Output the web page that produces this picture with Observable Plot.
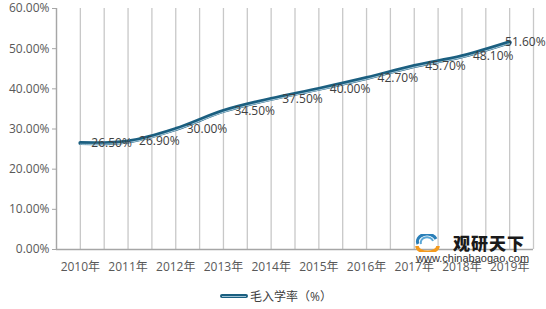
<!DOCTYPE html>
<html>
<head>
<meta charset="utf-8">
<script src="https://cdn.jsdelivr.net/npm/d3@7"></script>
<script src="https://cdn.jsdelivr.net/npm/@observablehq/plot@0.6"></script>
<style>
  html, body { margin: 0; padding: 0; background: #fff; }
  #wrap { position: relative; width: 546px; height: 309px; overflow: hidden; font-family: 'Open Sans', 'Noto Sans CJK SC', sans-serif; }
  #legend { position: absolute; left: 0; top: 287px; width: 546px; height: 18px; display: flex; justify-content: center; align-items: center; font-size: 12px; color: #404040; }
  #legend .sw { position: relative; width: 28px; height: 4px; background: #1b5f80; border-radius: 2px; margin-right: 2px; margin-left: 6px; }
  #legend .sw::after { content: ""; position: absolute; left: 2px; right: 2px; top: 2px; height: 1px; background: #9ec3d6; }
  #wm { position: absolute; left: 414px; top: 232px; width: 120px; height: 32px; }
  #wm .t1 { position: absolute; left: 39px; top: 1px; font-family: 'Noto Sans CJK SC', sans-serif; font-weight: 900; font-size: 17px; letter-spacing: 1px; color: #1a1a1a; line-height: 20px; }
  #wm .t2 { position: absolute; left: 2px; top: 20px; font-family: 'Liberation Sans', Arial, sans-serif; font-size: 11px; color: #333; line-height: 12px; }
  #wm svg { position: absolute; left: 0; top: 2px; }
</style>
</head>
<body>
<div id="wrap">
  <div id="chart"></div>
  <div id="wm">
    <svg width="30" height="18" viewBox="0 0 30 18">
      <path d="M4 10 A9 7 0 0 1 22 5" fill="none" stroke="#2a7fb8" stroke-width="3"/>
      <path d="M7 10 A6 5 0 0 1 19 7" fill="none" stroke="#5aa7d6" stroke-width="2"/>
      <path d="M3 12 A10 6 0 0 0 24 12" fill="none" stroke="#f39a1e" stroke-width="3.5"/>
    </svg>
    <div class="t1">观研天下</div>
    <div class="t2">www.chinabaogao.com</div>
  </div>
  <div id="legend"><span class="sw"></span><span>毛入学率（%）</span></div>
</div>
<script>
const years = [2010, 2011, 2012, 2013, 2014, 2015, 2016, 2017, 2018, 2019];
const rates = [26.5, 26.9, 30.0, 34.5, 37.5, 40.0, 42.7, 45.7, 48.1, 51.6];
const rateLabels = ["26.50%", "26.90%", "30.00%", "34.50%", "37.50%", "40.00%", "42.70%", "45.70%", "48.10%", "51.60%"];
const yTicks = [0, 10, 20, 30, 40, 50, 60];

const data = years.map((y, i) => ({ year: y, rate: rates[i], label: rateLabels[i] }));
const gridPositions = d3.range(years[0] - 0.5, years[years.length - 1] + 0.75, 0.5);

const chart = Plot.plot({
  width: 546,
  height: 280,
  marginTop: 8,
  marginBottom: 31,
  marginLeft: 56,
  marginRight: 13,
  x: { type: "linear", domain: [years[0] - 0.5, years[years.length - 1] + 0.5] },
  y: { domain: [0, 60] },
  style: { fontFamily: "'Open Sans', 'Noto Sans CJK SC', sans-serif", fontSize: "12px", color: "#595959", background: "#fff" },
  marks: [
    Plot.ruleX(gridPositions, { stroke: "#c8c8c8", strokeWidth: 1.3 }),
    Plot.ruleX([years[0] - 0.5], { stroke: "#a6a6a6", strokeWidth: 1.3 }),
    Plot.ruleY([0], { stroke: "#a6a6a6", strokeWidth: 1.3 }),
    Plot.axisY({ ticks: yTicks, tickFormat: d => d.toFixed(2) + "%", tickSize: 4, tickPadding: 3, stroke: "#a6a6a6", label: null }),
    Plot.axisX({ ticks: years, tickFormat: d => d + "年", tickSize: 0, tickPadding: 13, label: null }),
    Plot.line(data, { x: "year", y: "rate", curve: "catmull-rom", stroke: "#1b5f80", strokeWidth: 4, strokeLinecap: "round" }),
    Plot.line(data, { x: "year", y: "rate", curve: "catmull-rom", stroke: "#a8cadb", strokeWidth: 1, dy: 1.2 }),
    Plot.text(data.slice(0, -1), { x: "year", y: "rate", text: "label", textAnchor: "start", dx: 11, fill: "#404040", fontSize: 12 }),
    Plot.text(data.slice(-1), { x: "year", y: "rate", text: "label", textAnchor: "end", dx: 36, fill: "#404040", fontSize: 12 })
  ]
});
document.getElementById("chart").appendChild(chart);
</script>
</body>
</html>
